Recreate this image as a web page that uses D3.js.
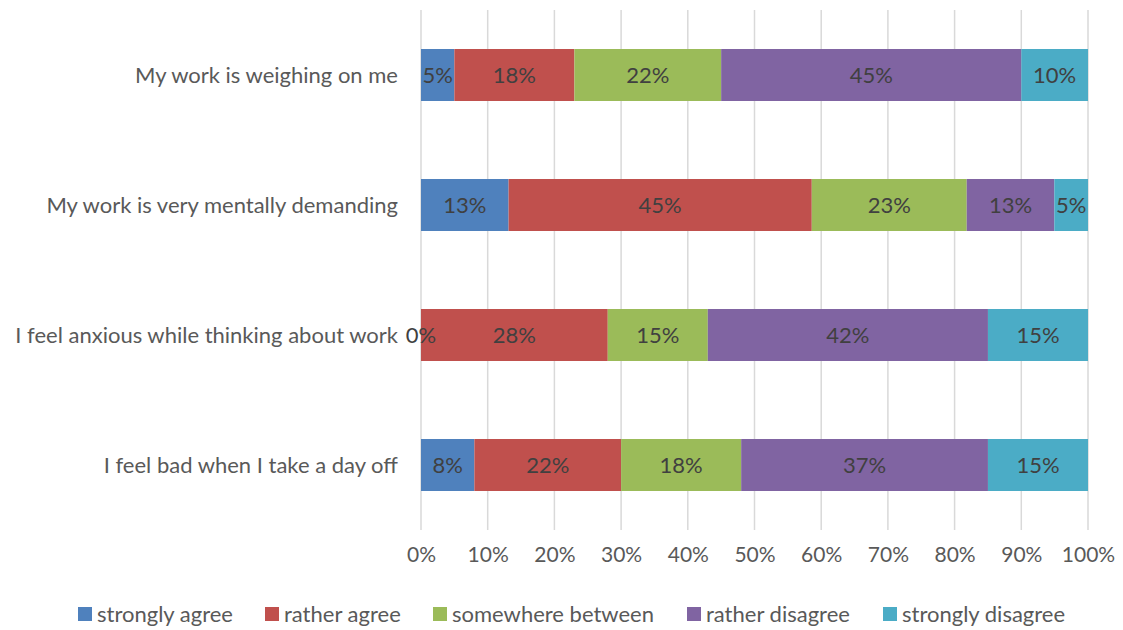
<!DOCTYPE html>
<html>
<head>
<meta charset="utf-8">
<script src="https://cdn.jsdelivr.net/npm/d3@7"></script>
<style>
  html, body { margin: 0; padding: 0; background: #fff; }
  svg { display: block; font-family: Lato, "Open Sans", sans-serif; }
</style>
</head>
<body>
<svg id="chart" width="1123" height="630"></svg>
<script>
// Survey statements, top to bottom
const statements = [
  "My work is weighing on me",
  "My work is very mentally demanding",
  "I feel anxious while thinking about work",
  "I feel bad when I take a day off"
];
// Answer categories in stacking order
const answers = ["strongly agree", "rather agree", "somewhere between", "rather disagree", "strongly disagree"];
const answerColors = ["#4F81BD", "#C0504D", "#9BBB59", "#8064A2", "#4BACC6"];

// Share of respondents (%) per answer, one value per statement
const stronglyAgree    = [5, 13, 0, 8];
const ratherAgree      = [18, 45, 28, 22];
const somewhereBetween = [22, 23, 15, 18];
const ratherDisagree   = [45, 13, 42, 37];
const stronglyDisagree = [10, 5, 15, 15];

const tickLabels = ["0%", "10%", "20%", "30%", "40%", "50%", "60%", "70%", "80%", "90%", "100%"];

const seriesValues = [stronglyAgree, ratherAgree, somewhereBetween, ratherDisagree, stronglyDisagree];
const rows = statements.map((s, i) => {
  const row = { statement: s };
  answers.forEach((a, k) => row[a] = seriesValues[k][i]);
  return row;
});

const textSize = 22, tickSize = 21;
const svg = d3.select("#chart");
const plotLeft = 421, plotRight = 1088, plotTop = 10, plotBottom = 530;

const x = d3.scaleLinear().domain([0, 1]).range([plotLeft, plotRight]);
const y = d3.scaleBand().domain(statements).range([plotTop, plotBottom])
  .paddingInner(0.6).paddingOuter(0.3);
const color = d3.scaleOrdinal().domain(answers).range(answerColors);

// 100% stacked layout
const stacked = d3.stack().keys(answers).offset(d3.stackOffsetExpand)(rows);

// Vertical gridlines
svg.append("g")
  .selectAll("line")
  .data(d3.range(0, 11).map(i => i / 10))
  .join("line")
  .attr("x1", d => x(d)).attr("x2", d => x(d))
  .attr("y1", plotTop).attr("y2", plotBottom)
  .attr("stroke", "#d9d9d9").attr("stroke-width", 1.5);

// Bars
const layers = svg.append("g")
  .selectAll("g")
  .data(stacked)
  .join("g")
  .attr("fill", d => color(d.key));

layers.selectAll("rect")
  .data(d => d)
  .join("rect")
  .attr("x", d => x(d[0]))
  .attr("width", d => x(d[1]) - x(d[0]))
  .attr("y", d => y(d.data.statement))
  .attr("height", y.bandwidth());

// Value labels centred on each segment
const labels = svg.append("g");
stacked.forEach(layer => {
  layer.forEach(d => {
    labels.append("text")
      .attr("x", (x(d[0]) + x(d[1])) / 2)
      .attr("y", y(d.data.statement) + y.bandwidth() / 2)
      .attr("dy", "0.35em")
      .attr("text-anchor", "middle")
      .attr("font-size", textSize)
      .attr("fill", "#404040")
      .text(d.data[layer.key] + "%");
  });
});

// Category labels
svg.append("g")
  .selectAll("text")
  .data(statements)
  .join("text")
  .attr("x", 398)
  .attr("y", d => y(d) + y.bandwidth() / 2)
  .attr("dy", "0.35em")
  .attr("text-anchor", "end")
  .attr("font-size", textSize)
  .attr("fill", "#595959")
  .text(d => d);

// Bottom axis tick labels
const xAxis = d3.axisBottom(x)
  .tickValues(d3.range(0, 11).map(i => i / 10))
  .tickFormat((d, i) => tickLabels[i])
  .tickSize(0).tickPadding(0);
const axisG = svg.append("g").attr("transform", "translate(0, 547)").call(xAxis);
axisG.select(".domain").remove();
axisG.selectAll("text")
  .attr("font-size", tickSize)
  .attr("font-family", "Lato, 'Open Sans', sans-serif")
  .attr("fill", "#595959");

// Legend
const legendX = [78, 265, 433, 687, 883];
const legend = svg.append("g")
  .selectAll("g")
  .data(answers)
  .join("g")
  .attr("transform", (d, i) => `translate(${legendX[i]}, 614)`);
legend.append("rect")
  .attr("x", 0).attr("y", -7)
  .attr("width", 14).attr("height", 14)
  .attr("fill", d => color(d));
legend.append("text")
  .attr("x", 19).attr("dy", "0.35em")
  .attr("font-size", textSize)
  .attr("fill", "#595959")
  .text(d => d);
</script>
</body>
</html>
